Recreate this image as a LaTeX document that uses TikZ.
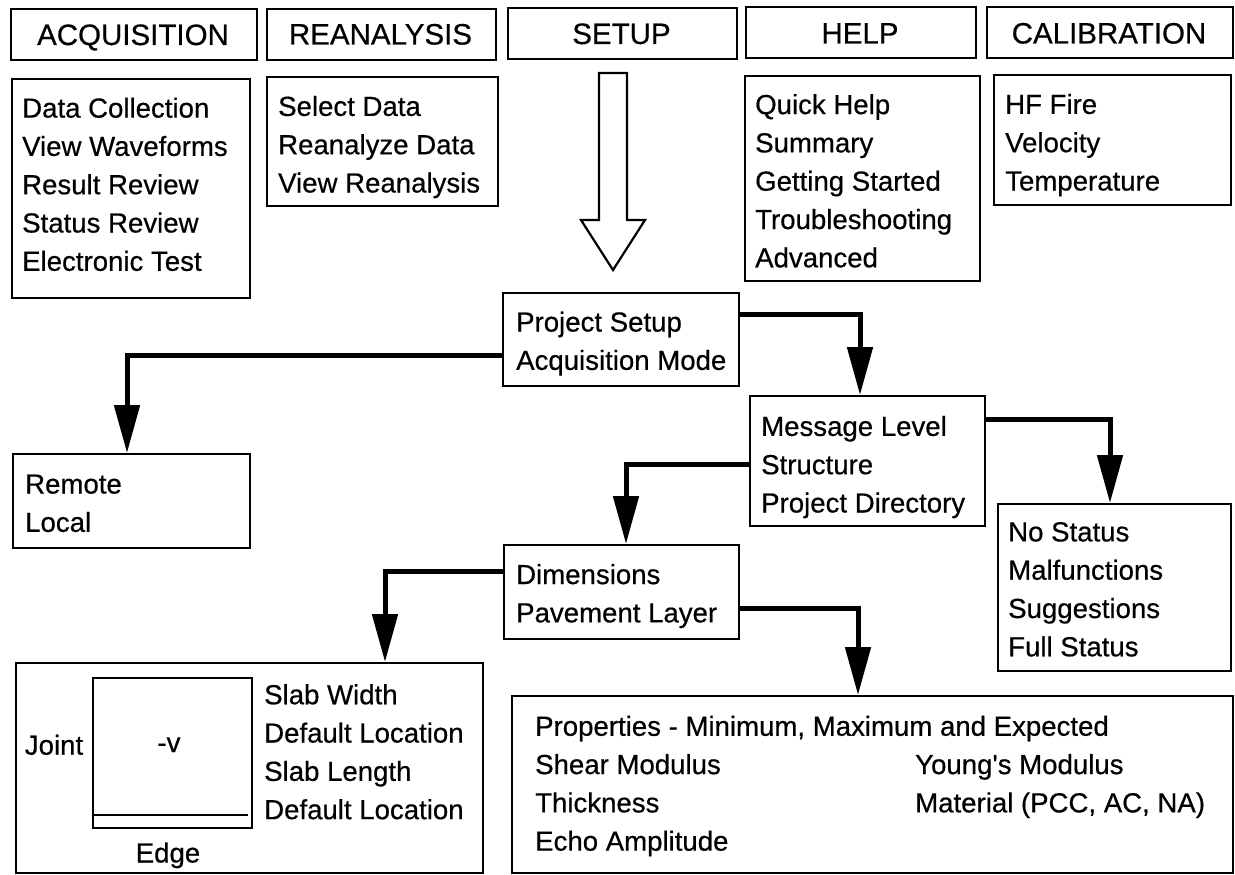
\documentclass[tikz,border=0pt]{standalone}
\usepackage{fontspec}
\setmainfont{Liberation Sans}
\newfontfamily\heavyfont[FakeBold=0.5]{Liberation Sans}
\usetikzlibrary{arrows.meta}
\newcommand{\bodyfont}{\heavyfont\fontsize{27.6}{38.3}\selectfont}
\newcommand{\headfont}{\heavyfont\fontsize{29.5}{35}\selectfont}
\newcommand{\lst}{\rule[-6pt]{0pt}{21pt}}
\tikzset{
  box/.style={draw, line width=2.2pt, inner sep=0pt, anchor=north west},
  txt/.style={inner sep=0pt, align=left, font=\bodyfont, anchor=west},
  lbl/.style={inner sep=0pt, font=\bodyfont, anchor=base},
  head/.style={inner sep=0pt, font=\headfont, anchor=base},
  conn/.style={line width=5pt, line join=miter, -{Triangle[length=48pt,width=25pt]}},
  hollow/.style={draw, line width=2.2pt, fill=white, line join=miter}
}
\begin{document}
\begin{tikzpicture}[x=1pt,y=-1pt]
\fill[white] (0,0) rectangle (1235,875);
\useasboundingbox (0,0) rectangle (1235,875);

% header boxes
\node[box, minimum width=246pt, minimum height=51pt] (hAcq) at (10,8) {};
\node[box, minimum width=229pt, minimum height=51pt] (hRea) at (266,8) {};
\node[box, minimum width=229pt, minimum height=51pt] (hSet) at (507,7) {};
\node[box, minimum width=230pt, minimum height=51pt] (hHelp) at (745,6) {};
\node[box, minimum width=246pt, minimum height=51pt] (hCal) at (986,6) {};
\node[head] (hAcqT) at (133,45) {ACQUISITION};
\node[head] (hReaT) at (380.5,44.5) {REANALYSIS};
\node[head] (hSetT) at (621.5,44) {SETUP};
\node[head] (hHelpT) at (860,43.5) {HELP};
\node[head] (hCalT) at (1109,43.5) {CALIBRATION};

% list boxes
\node[box, minimum width=238pt, minimum height=219pt] (lAcq) at (11,78) {};
\node[box, minimum width=231pt, minimum height=129pt] (lRea) at (266,76) {};
\node[box, minimum width=235pt, minimum height=205pt] (lHelp) at (744,75) {};
\node[box, minimum width=237pt, minimum height=130pt] (lCal) at (993,74) {};
\node[txt] (lAcqT) at (22,187.2) {\lst Data Collection\\\lst View Waveforms\\\lst Result Review\\\lst Status Review\\\lst Electronic Test};
\node[txt] (lReaT) at (278,147.2) {\lst Select Data\\\lst Reanalyze Data\\\lst View Reanalysis};
\node[txt] (lHelpT) at (755,183.7) {\lst Quick Help\\\lst Summary\\\lst Getting Started\\\lst Troubleshooting\\\lst Advanced};
\node[txt] (lCalT) at (1005,145.2) {\lst HF Fire\\\lst Velocity\\\lst Temperature};

% hollow arrow from SETUP
\path[hollow] (599,73) -- (627,73) -- (627,220) -- (645,220) -- (613,270) -- (581,220) -- (599,220) -- cycle;

% flow boxes
\node[box, minimum width=236pt, minimum height=93pt] (proj) at (502,292) {};
\node[txt] (projT) at (516,343.7) {\lst Project Setup\\\lst Acquisition Mode};
\node[box, minimum width=237pt, minimum height=94pt] (remote) at (12,453) {};
\node[txt] (remoteT) at (25,506.2) {\lst Remote\\\lst Local};
\node[box, minimum width=235pt, minimum height=130pt] (msg) at (749,395) {};
\node[txt] (msgT) at (761,467.2) {\lst Message Level\\\lst Structure\\\lst Project Directory};
\node[box, minimum width=233pt, minimum height=167pt] (nostat) at (997,503) {};
\node[txt] (nostatT) at (1008,592.2) {\lst No Status\\\lst Malfunctions\\\lst Suggestions\\\lst Full Status};
\node[box, minimum width=235pt, minimum height=94pt] (dim) at (503,544) {};
\node[txt] (dimT) at (516,596.2) {\lst Dimensions\\\lst Pavement Layer};

% slab box
\node[box, minimum width=467pt, minimum height=210pt] (slab) at (15,662) {};
\draw[line width=2.2pt] (93,678) rectangle (252,828);
\draw[line width=2.2pt] (93,815) -- (248,815);
\node[lbl] (joint) at (54,754.7) {Joint};
\node[lbl] (vlab) at (169,752) {-v};
\node[lbl] (edge) at (168,862.5) {Edge};
\node[txt] (slabT) at (264,754.7) {\lst Slab Width\\\lst Default Location\\\lst Slab Length\\\lst Default Location};

% properties box
\node[box, minimum width=721pt, minimum height=177pt] (props) at (511,695) {};
\node[txt] (propL) at (535,786.2) {\lst Properties - Minimum, Maximum and Expected\\\lst Shear Modulus\\\lst Thickness\\\lst Echo Amplitude};
\node[txt] (propR) at (915,786.2) {\lst Young's Modulus\\\lst Material (PCC, AC, NA)};

% connectors
\draw[conn] (proj.west |- 0,355) -| (remote.north -| 127,0);
\draw[conn] (proj.east |- 0,314) -| (msg.north -| 860,0);
\draw[conn] (msg.east |- 0,419) -| (nostat.north -| 1110,0);
\draw[conn] (msg.west |- 0,464) -| (dim.north -| 626,0);
\draw[conn] (dim.west |- 0,571) -| (slab.north -| 385,0);
\draw[conn] (dim.east |- 0,608) -| (props.north -| 858,0);
\end{tikzpicture}
\end{document}
